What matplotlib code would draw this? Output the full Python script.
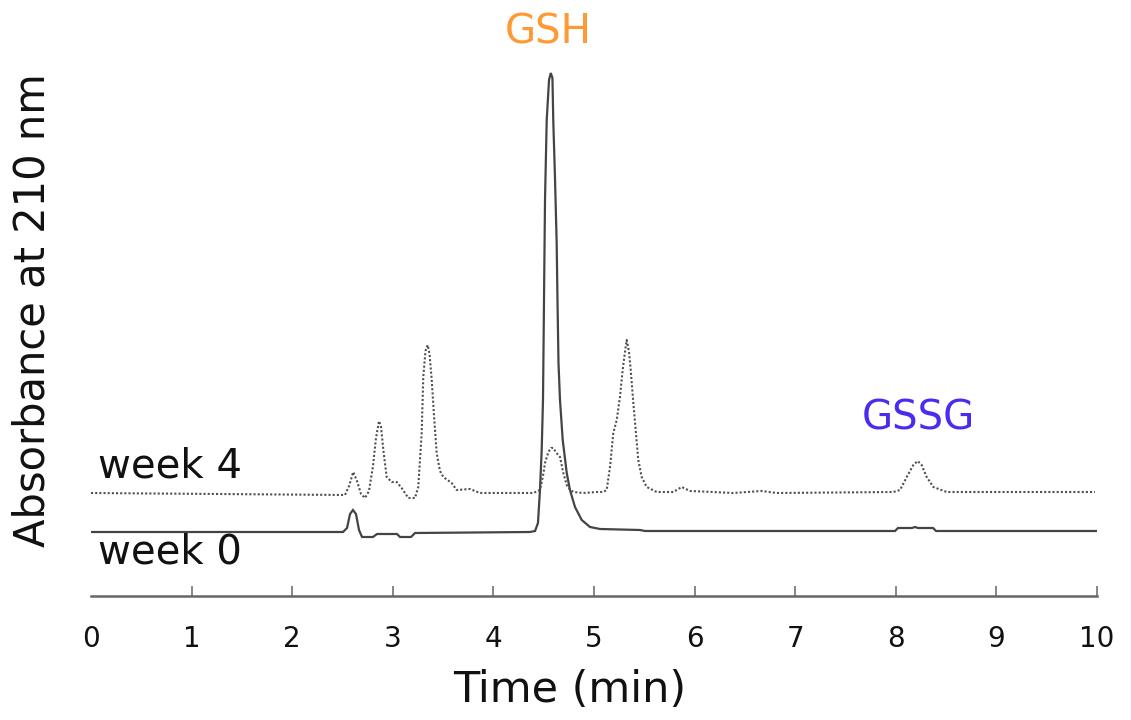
import matplotlib
matplotlib.use("Agg")
import matplotlib.pyplot as plt

# HPLC traces, time in min, absorbance in arbitrary units (axis baseline = 0)
week0_time = [0.00, 2.505, 2.545, 2.575, 2.604, 2.634, 2.664, 2.694, 2.803, 2.843,
              3.042, 3.072, 3.181, 3.221, 4.364, 4.414, 4.443, 4.463, 4.480, 4.493,
              4.503, 4.513, 4.530, 4.553, 4.570, 4.587, 4.595, 4.612, 4.629, 4.637,
              4.647, 4.662, 4.689, 4.729, 4.761, 4.811, 4.878, 4.960, 5.060, 5.457,
              5.507, 7.992, 8.022, 8.161, 8.191, 8.221, 8.370, 8.400, 10.00]
week0_abs = [6.4, 6.4, 6.8, 8.2, 8.6, 8.2, 6.6, 5.9, 5.9, 6.2,
             6.2, 5.9, 5.9, 6.3, 6.4, 6.5, 7.3, 10.6, 14.6, 19.6,
             29.6, 39.6, 47.6, 51.6, 52.3, 51.8, 47.6, 41.9, 35.3, 29.6,
             23.3, 19.6, 15.6, 12.3, 10.6, 8.9, 7.6, 6.9, 6.7, 6.6,
             6.5, 6.5, 6.8, 6.8, 6.9, 6.8, 6.8, 6.5, 6.5]

week4_time = [0.00, 2.525, 2.565, 2.607, 2.644, 2.684, 2.724, 2.763, 2.803, 2.833,
              2.863, 2.883, 2.906, 2.939, 2.989, 3.039, 3.088, 3.154, 3.221, 3.253,
              3.287, 3.303, 3.325, 3.347, 3.365, 3.387, 3.410, 3.436, 3.469, 3.502,
              3.585, 3.635, 3.767, 3.867, 4.397, 4.463, 4.493, 4.513, 4.546, 4.573,
              4.595, 4.627, 4.662, 4.695, 4.735, 4.794, 4.894, 5.027, 5.092, 5.126,
              5.159, 5.192, 5.226, 5.258, 5.285, 5.308, 5.325, 5.348, 5.365, 5.391,
              5.417, 5.440, 5.474, 5.524, 5.623, 5.788, 5.872, 5.954, 6.183, 6.382,
              6.667, 6.816, 7.975, 8.042, 8.109, 8.174, 8.218, 8.257, 8.307, 8.373,
              8.506, 9.980]
week4_abs = [10.3, 10.1, 11.0, 12.4, 11.5, 10.2, 9.8, 10.5, 13.0, 15.8,
             17.5, 16.9, 14.6, 11.9, 11.4, 11.4, 10.8, 9.8, 9.8, 10.9,
             16.3, 21.9, 24.5, 25.1, 24.2, 21.6, 18.0, 14.3, 12.5, 11.9,
             11.3, 10.6, 10.7, 10.3, 10.3, 10.6, 12.0, 13.3, 14.4, 14.8,
             14.8, 14.3, 13.9, 12.3, 10.9, 10.4, 10.3, 10.4, 10.4, 10.6,
             12.9, 16.3, 17.6, 19.9, 22.6, 24.4, 25.6, 24.4, 22.6, 19.3,
             16.3, 13.6, 11.9, 10.9, 10.4, 10.4, 10.9, 10.5, 10.4, 10.3,
             10.5, 10.3, 10.4, 10.6, 11.9, 13.1, 13.5, 13.1, 11.9, 10.9,
             10.4, 10.4]

tick_values = list(range(11))
tick_labels = [str(v) for v in tick_values]

plt.rcParams["font.family"] = "DejaVu Sans"

fig = plt.figure(figsize=(11.31, 7.2), dpi=100)
ax = fig.add_axes([91 / 1131, 124 / 720, 1006 / 1131, 540 / 720])

ax.plot(week0_time, week0_abs, color="#444444", lw=1.6, solid_joinstyle="miter")
ax.plot(week4_time, week4_abs, color="#505050", lw=1.5, linestyle=(0, (1, 1)))

ax.set_xlim(0, 10)
ax.set_ylim(0, 54)
for side in ("top", "left", "right"):
    ax.spines[side].set_visible(False)
ax.spines["bottom"].set_color("#666666")
ax.spines["bottom"].set_linewidth(1.8)
ax.set_yticks([])
ax.set_xticks(tick_values)
ax.set_xticklabels(tick_labels)
ax.tick_params(axis="x", direction="in", length=7, width=1.1, color="#666666",
               pad=21, labelsize=20, labelcolor="#111111")
ax.xaxis.get_major_ticks()[0].tick1line.set_visible(False)

# peak and trace labels
ax.text(4.55, 56.3, "GSH", color="#ff9933", fontsize=29, ha="center", va="center",
        clip_on=False)
ax.text(8.22, 17.8, "GSSG", color="#4a2cf0", fontsize=29, ha="center", va="center")
ax.text(0.07, 13.0, "week 4", color="#111111", fontsize=29, ha="left", va="center")
ax.text(0.07, 4.3, "week 0", color="#111111", fontsize=29, ha="left", va="center")

fig.text(33 / 1131, (720 - 310) / 720, "Absorbance at 210 nm", rotation=90,
         fontsize=30, ha="center", va="center", color="#111111")
fig.text(570 / 1131, (720 - 690) / 720, "Time (min)", fontsize=31,
         ha="center", va="center", color="#111111")

fig.savefig("out.png", dpi=100)
